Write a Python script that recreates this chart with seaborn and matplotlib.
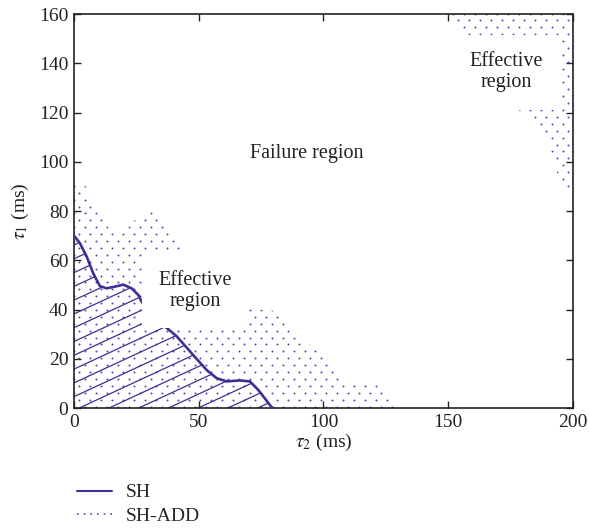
import numpy as np
import pandas as pd
import matplotlib
matplotlib.use("Agg")
import matplotlib.pyplot as plt
from matplotlib.lines import Line2D
import seaborn as sns

# ---------------- data ----------------
# SH stability boundary  (tau2, tau1)
sh_t2 = [0, 2.4, 5.1, 7.7, 10.4, 13.1, 16.4, 19.8, 23.1, 25.8, 27.1, 31, 35.8,
         41.2, 47.8, 53.2, 57.2, 61.2, 66.5, 70.5, 73.9, 76.5, 79.2, 80]
sh_t1 = [70, 66.9, 61.5, 54.7, 49.5, 48.6, 49.3, 50.1, 48.6, 45.9, 43.2, 38.6, 33.7,
         29.1, 21.5, 15.4, 12.1, 10.8, 11.2, 10.8, 7.3, 3.9, 0.3, 0]

# SH-ADD stability boundary, lower-left region
add_t2 = [0, 1.7, 4.4, 6.4, 9.1, 11.7, 14.4, 16.4, 20.4, 24.4, 27.8, 31.1, 34.5,
          37.2, 41.2, 44.5, 47, 50, 53, 56, 59, 62, 65, 68, 70.5, 74.6, 78.6,
          82.6, 85.9, 88.6, 91.3, 94.6, 97.9, 101.3, 105.3, 108.6, 113.3, 118.6,
          121.3, 124, 126.7, 128.7, 130]
add_t1 = [93, 92.6, 90.6, 86.5, 81.8, 77, 72.3, 70.7, 71.6, 76.3, 79, 80.1, 78.4,
          74.3, 68.2, 63.5, 59, 52, 45, 40, 37, 36.5, 37.5, 39.5, 40.2, 40, 39.8,
          38.6, 35.7, 32.3, 29, 25.6, 22.9, 18.8, 14.1, 11, 10, 10.4,
          9.3, 7.3, 4.6, 1.9, 0]

# SH-ADD stability boundary, upper-right region
tr_t2 = [150, 155, 160, 165, 170, 174, 177, 182, 187, 189.5, 192, 193.5, 195, 197, 200]
tr_t1 = [160, 154, 148, 141, 134, 127, 122, 118, 114, 109, 102, 96, 91, 88.5, 88]

x_ticks = [0, 50, 100, 150, 200]
y_ticks = [0, 20, 40, 60, 80, 100, 120, 140, 160]
series_labels = ["SH", "SH-ADD"]

# ---------------- style ----------------
sns.set_theme(style="ticks")
plt.rcParams["font.family"] = ["Liberation Serif", "DejaVu Serif"]
plt.rcParams["mathtext.fontset"] = "stix"
BLUE = "#3b3192"
DOT = "#4b46c0"
TXT = "#222222"

fig = plt.figure(figsize=(5.89, 5.29), dpi=100)
ax = fig.add_axes([0.1256, 0.2287, 0.9728 - 0.1256, 0.9735 - 0.2287])
ax.set_xlim(0, 200)
ax.set_ylim(0, 160)

# dot texture (staggered grid) used to fill the SH-ADD regions
dx, dy = 4.4, 2.8
gx, gy = np.meshgrid(np.arange(0, 204, dx), np.arange(0.6, 161, dy))
gx = gx + (np.arange(gy.shape[0])[:, None] % 2) * dx / 2
tex = pd.DataFrame({"x": gx.ravel(), "y": gy.ravel()})

for px_, py_, base in [(add_t2, add_t1, 0), (tr_t2, tr_t1, 160)]:
    region = ax.fill_between(px_, py_, base, facecolor="none", edgecolor="none",
                             linewidth=0, zorder=1)
    before = len(ax.collections)
    sns.scatterplot(data=tex, x="x", y="y", s=2.0, color=DOT, linewidth=0,
                    ax=ax, zorder=1, legend=False)
    for coll in ax.collections[before:]:
        coll.set_clip_path(region.get_paths()[0], ax.transData)

# SH region (diagonal hatching clipped to region)
sh_poly = ax.fill_between(sh_t2, sh_t1, 0, facecolor="none", edgecolor="none",
                          linewidth=0, zorder=2)
slope = 0.47
xs = np.array([0, 200])
for c in 4.6 + 5.6 * np.arange(-20, 14):
    ln, = ax.plot(xs, slope * xs + c, color=BLUE, lw=0.9, zorder=2)
    ln.set_clip_path(sh_poly.get_paths()[0], ax.transData)

# SH boundary line
df = pd.DataFrame({"t2": sh_t2, "t1": sh_t1})
sns.lineplot(data=df, x="t2", y="t1", sort=False, color=BLUE, lw=1.9,
             ax=ax, zorder=3)

# annotations
box = dict(boxstyle="square,pad=0.85", facecolor="white", edgecolor="none")
ax.text(48.7, 47.5, "Effective\nregion", ha="center", va="center", fontsize=14.5,
        color=TXT, bbox=box, zorder=5, linespacing=1.15)
ax.text(173.4, 136.3, "Effective\nregion", ha="center", va="center", fontsize=14.5,
        color=TXT, bbox=box, zorder=5, linespacing=1.15)
ax.text(93.2, 103.4, "Failure region", ha="center", va="center", fontsize=14.5,
        color=TXT, zorder=5)

ax.set_xlim(0, 200)
ax.set_ylim(0, 160)
ax.set_xticks(x_ticks)
ax.set_yticks(y_ticks)
ax.tick_params(direction="in", length=5, width=1, top=True, right=True,
               labelsize=14, colors=TXT, pad=4)
for s in ax.spines.values():
    s.set_linewidth(1.2)
    s.set_color(TXT)
ax.set_xlabel(r"$\tau_2$ (ms)", fontsize=14, color=TXT, labelpad=1)
ax.set_ylabel(r"$\tau_1$ (ms)", fontsize=14, color=TXT, labelpad=6)

handles = [Line2D([], [], color=BLUE, lw=1.5),
           Line2D([], [], color=DOT, lw=1.2, linestyle=(0, (1, 3)))]
fig.legend(handles, series_labels, loc="upper left",
           bbox_to_anchor=(0.115, 0.104), frameon=False, fontsize=14,
           handlelength=1.8, handletextpad=0.7, labelspacing=0.3, borderpad=0)

fig.savefig("out.png", dpi=100)
